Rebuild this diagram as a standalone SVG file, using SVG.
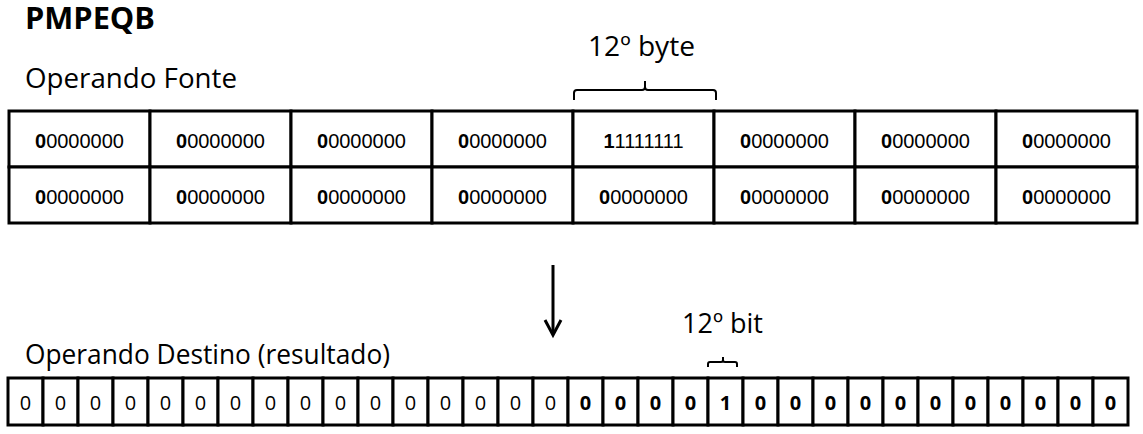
<svg xmlns="http://www.w3.org/2000/svg" width="1143" height="434" viewBox="0 0 1143 434">
<style>
.cell{fill:#fff;stroke:#000;stroke-width:3}
.ct{font-family:"Liberation Sans",Arial,sans-serif;font-size:20px;text-anchor:middle;fill:#000}
.bt{font-family:"Open Sans","Liberation Sans",sans-serif;font-size:20px;text-anchor:middle;fill:#000}
.b{font-weight:bold}
.lbl{font-family:"Open Sans","Liberation Sans",sans-serif;font-size:28px;fill:#000}
.br{fill:none;stroke:#000;stroke-width:2}
.conn{fill:none;stroke:#000;stroke-width:3}
</style>
<rect width="1143" height="434" fill="#fff"/>
<g id="title"><text class="lbl b" x="25" y="29" font-size="30" style="font-size:30px" textLength="130" lengthAdjust="spacingAndGlyphs">PMPEQB</text></g>
<g id="label-fonte"><text class="lbl" x="25" y="88" textLength="212" lengthAdjust="spacingAndGlyphs">Operando Fonte</text></g>
<g id="label-byte"><text class="lbl" x="588" y="56" textLength="107" lengthAdjust="spacingAndGlyphs">12º byte</text></g>
<g id="label-destino"><text class="lbl" x="25" y="364" textLength="365" lengthAdjust="spacingAndGlyphs">Operando Destino (resultado)</text></g>
<g id="label-bit"><text class="lbl" x="682" y="333" textLength="81" lengthAdjust="spacingAndGlyphs">12º bit</text></g>
<g id="fonte">
<g id="f0"><rect class="cell" x="9" y="111" width="141" height="56"/><text class="ct" x="79.5" y="148"><tspan class="b">0</tspan>0000000</text></g>
<g id="f1"><rect class="cell" x="150" y="111" width="141" height="56"/><text class="ct" x="220.5" y="148"><tspan class="b">0</tspan>0000000</text></g>
<g id="f2"><rect class="cell" x="291" y="111" width="141" height="56"/><text class="ct" x="361.5" y="148"><tspan class="b">0</tspan>0000000</text></g>
<g id="f3"><rect class="cell" x="432" y="111" width="141" height="56"/><text class="ct" x="502.5" y="148"><tspan class="b">0</tspan>0000000</text></g>
<g id="f4"><rect class="cell" x="573" y="111" width="141" height="56"/><text class="ct" x="643.5" y="148"><tspan class="b">1</tspan>1111111</text></g>
<g id="f5"><rect class="cell" x="714" y="111" width="141" height="56"/><text class="ct" x="784.5" y="148"><tspan class="b">0</tspan>0000000</text></g>
<g id="f6"><rect class="cell" x="855" y="111" width="141" height="56"/><text class="ct" x="925.5" y="148"><tspan class="b">0</tspan>0000000</text></g>
<g id="f7"><rect class="cell" x="996" y="111" width="141" height="56"/><text class="ct" x="1066.5" y="148"><tspan class="b">0</tspan>0000000</text></g>
<g id="f8"><rect class="cell" x="9" y="167" width="141" height="56"/><text class="ct" x="79.5" y="204"><tspan class="b">0</tspan>0000000</text></g>
<g id="f9"><rect class="cell" x="150" y="167" width="141" height="56"/><text class="ct" x="220.5" y="204"><tspan class="b">0</tspan>0000000</text></g>
<g id="f10"><rect class="cell" x="291" y="167" width="141" height="56"/><text class="ct" x="361.5" y="204"><tspan class="b">0</tspan>0000000</text></g>
<g id="f11"><rect class="cell" x="432" y="167" width="141" height="56"/><text class="ct" x="502.5" y="204"><tspan class="b">0</tspan>0000000</text></g>
<g id="f12"><rect class="cell" x="573" y="167" width="141" height="56"/><text class="ct" x="643.5" y="204"><tspan class="b">0</tspan>0000000</text></g>
<g id="f13"><rect class="cell" x="714" y="167" width="141" height="56"/><text class="ct" x="784.5" y="204"><tspan class="b">0</tspan>0000000</text></g>
<g id="f14"><rect class="cell" x="855" y="167" width="141" height="56"/><text class="ct" x="925.5" y="204"><tspan class="b">0</tspan>0000000</text></g>
<g id="f15"><rect class="cell" x="996" y="167" width="141" height="56"/><text class="ct" x="1066.5" y="204"><tspan class="b">0</tspan>0000000</text></g>
</g>
<g id="destino">
<g id="d0"><rect class="cell" x="8" y="378" width="35" height="47"/><text class="bt" x="25.5" y="410">0</text></g>
<g id="d1"><rect class="cell" x="43" y="378" width="35" height="47"/><text class="bt" x="60.5" y="410">0</text></g>
<g id="d2"><rect class="cell" x="78" y="378" width="35" height="47"/><text class="bt" x="95.5" y="410">0</text></g>
<g id="d3"><rect class="cell" x="113" y="378" width="35" height="47"/><text class="bt" x="130.5" y="410">0</text></g>
<g id="d4"><rect class="cell" x="148" y="378" width="35" height="47"/><text class="bt" x="165.5" y="410">0</text></g>
<g id="d5"><rect class="cell" x="183" y="378" width="35" height="47"/><text class="bt" x="200.5" y="410">0</text></g>
<g id="d6"><rect class="cell" x="218" y="378" width="35" height="47"/><text class="bt" x="235.5" y="410">0</text></g>
<g id="d7"><rect class="cell" x="253" y="378" width="35" height="47"/><text class="bt" x="270.5" y="410">0</text></g>
<g id="d8"><rect class="cell" x="288" y="378" width="35" height="47"/><text class="bt" x="305.5" y="410">0</text></g>
<g id="d9"><rect class="cell" x="323" y="378" width="35" height="47"/><text class="bt" x="340.5" y="410">0</text></g>
<g id="d10"><rect class="cell" x="358" y="378" width="35" height="47"/><text class="bt" x="375.5" y="410">0</text></g>
<g id="d11"><rect class="cell" x="393" y="378" width="35" height="47"/><text class="bt" x="410.5" y="410">0</text></g>
<g id="d12"><rect class="cell" x="428" y="378" width="35" height="47"/><text class="bt" x="445.5" y="410">0</text></g>
<g id="d13"><rect class="cell" x="463" y="378" width="35" height="47"/><text class="bt" x="480.5" y="410">0</text></g>
<g id="d14"><rect class="cell" x="498" y="378" width="35" height="47"/><text class="bt" x="515.5" y="410">0</text></g>
<g id="d15"><rect class="cell" x="533" y="378" width="35" height="47"/><text class="bt" x="550.5" y="410">0</text></g>
<g id="d16"><rect class="cell" x="568" y="378" width="35" height="47"/><text class="bt b" x="585.5" y="410">0</text></g>
<g id="d17"><rect class="cell" x="603" y="378" width="35" height="47"/><text class="bt b" x="620.5" y="410">0</text></g>
<g id="d18"><rect class="cell" x="638" y="378" width="35" height="47"/><text class="bt b" x="655.5" y="410">0</text></g>
<g id="d19"><rect class="cell" x="673" y="378" width="35" height="47"/><text class="bt b" x="690.5" y="410">0</text></g>
<g id="d20"><rect class="cell" x="708" y="378" width="35" height="47"/><text class="bt b" x="725.5" y="410">1</text></g>
<g id="d21"><rect class="cell" x="743" y="378" width="35" height="47"/><text class="bt b" x="760.5" y="410">0</text></g>
<g id="d22"><rect class="cell" x="778" y="378" width="35" height="47"/><text class="bt b" x="795.5" y="410">0</text></g>
<g id="d23"><rect class="cell" x="813" y="378" width="35" height="47"/><text class="bt b" x="830.5" y="410">0</text></g>
<g id="d24"><rect class="cell" x="848" y="378" width="35" height="47"/><text class="bt b" x="865.5" y="410">0</text></g>
<g id="d25"><rect class="cell" x="883" y="378" width="35" height="47"/><text class="bt b" x="900.5" y="410">0</text></g>
<g id="d26"><rect class="cell" x="918" y="378" width="35" height="47"/><text class="bt b" x="935.5" y="410">0</text></g>
<g id="d27"><rect class="cell" x="953" y="378" width="35" height="47"/><text class="bt b" x="970.5" y="410">0</text></g>
<g id="d28"><rect class="cell" x="988" y="378" width="35" height="47"/><text class="bt b" x="1005.5" y="410">0</text></g>
<g id="d29"><rect class="cell" x="1023" y="378" width="35" height="47"/><text class="bt b" x="1040.5" y="410">0</text></g>
<g id="d30"><rect class="cell" x="1058" y="378" width="35" height="47"/><text class="bt b" x="1075.5" y="410">0</text></g>
<g id="d31"><rect class="cell" x="1093" y="378" width="35" height="47"/><text class="bt b" x="1110.5" y="410">0</text></g>
</g>
<g id="connectors">
<path class="br" d="M574,100 V93 Q574,90 577,90 H642 Q645,90 645,87 V81 V87 Q645,90 648,90 H713 Q716,90 716,93 V100"/>
<path class="br" d="M708,367 V364 Q708,362 710,362 H721 Q723,362 723,360 V357 V360 Q723,362 725,362 H735 Q737,362 737,364 V367"/>
<path class="conn" d="M553,265 V334"/>
<path class="conn" d="M545,320 L553,335 L561,320"/>
</g>
</svg>
